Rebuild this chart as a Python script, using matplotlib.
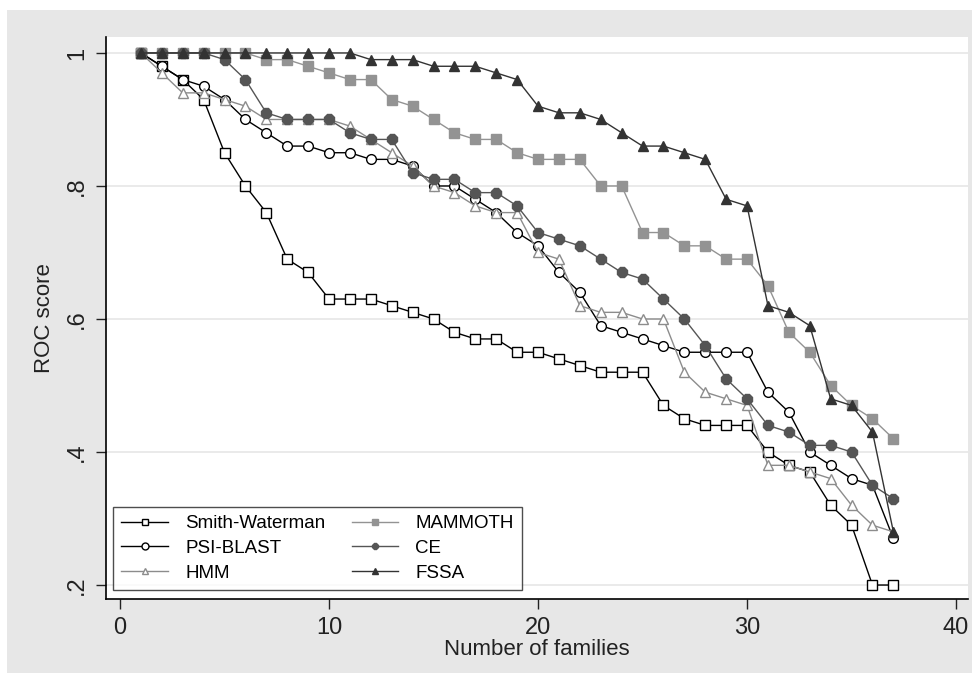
import matplotlib
matplotlib.use("Agg")
import matplotlib.pyplot as plt
from matplotlib.patches import Rectangle

plt.rcParams["font.family"] = ["Liberation Sans", "DejaVu Sans"]

families = list(range(1, 38))

smith_waterman = [1.00, 0.98, 0.96, 0.93, 0.85, 0.80, 0.76, 0.69, 0.67, 0.63,
                  0.63, 0.63, 0.62, 0.61, 0.60, 0.58, 0.57, 0.57, 0.55, 0.55,
                  0.54, 0.53, 0.52, 0.52, 0.52, 0.47, 0.45, 0.44, 0.44, 0.44,
                  0.40, 0.38, 0.37, 0.32, 0.29, 0.20, 0.20]
psi_blast = [1.00, 0.98, 0.96, 0.95, 0.93, 0.90, 0.88, 0.86, 0.86, 0.85,
             0.85, 0.84, 0.84, 0.83, 0.80, 0.80, 0.78, 0.76, 0.73, 0.71,
             0.67, 0.64, 0.59, 0.58, 0.57, 0.56, 0.55, 0.55, 0.55, 0.55,
             0.49, 0.46, 0.40, 0.38, 0.36, 0.35, 0.27]
hmm = [1.00, 0.97, 0.94, 0.94, 0.93, 0.92, 0.90, 0.90, 0.90, 0.90,
       0.89, 0.87, 0.85, 0.83, 0.80, 0.79, 0.77, 0.76, 0.76, 0.70,
       0.69, 0.62, 0.61, 0.61, 0.60, 0.60, 0.52, 0.49, 0.48, 0.47,
       0.38, 0.38, 0.37, 0.36, 0.32, 0.29, 0.28]
mammoth = [1.00, 1.00, 1.00, 1.00, 1.00, 1.00, 0.99, 0.99, 0.98, 0.97,
           0.96, 0.96, 0.93, 0.92, 0.90, 0.88, 0.87, 0.87, 0.85, 0.84,
           0.84, 0.84, 0.80, 0.80, 0.73, 0.73, 0.71, 0.71, 0.69, 0.69,
           0.65, 0.58, 0.55, 0.50, 0.47, 0.45, 0.42]
ce = [1.00, 1.00, 1.00, 1.00, 0.99, 0.96, 0.91, 0.90, 0.90, 0.90,
      0.88, 0.87, 0.87, 0.82, 0.81, 0.81, 0.79, 0.79, 0.77, 0.73,
      0.72, 0.71, 0.69, 0.67, 0.66, 0.63, 0.60, 0.56, 0.51, 0.48,
      0.44, 0.43, 0.41, 0.41, 0.40, 0.35, 0.33]
fssa = [1.00, 1.00, 1.00, 1.00, 1.00, 1.00, 1.00, 1.00, 1.00, 1.00,
        1.00, 0.99, 0.99, 0.99, 0.98, 0.98, 0.98, 0.97, 0.96, 0.92,
        0.91, 0.91, 0.90, 0.88, 0.86, 0.86, 0.85, 0.84, 0.78, 0.77,
        0.62, 0.61, 0.59, 0.48, 0.47, 0.43, 0.28]

y_ticks = [0.2, 0.4, 0.6, 0.8, 1.0]
y_tick_labels = [".2", ".4", ".6", ".8", "1"]
x_ticks = [0, 10, 20, 30, 40]

fig = plt.figure(figsize=(9.79, 6.83), dpi=100, facecolor="white")
# grey graph region behind the white plot area
fig.patches.append(Rectangle((7 / 979, 10 / 683), 965 / 979, 663 / 683,
                             transform=fig.transFigure, facecolor="#e7e7e7",
                             edgecolor="none", zorder=-10))
ax = fig.add_axes([106 / 979, 1 - 599 / 683, 862 / 979, 562 / 683])
ax.set_facecolor("white")

series = [
    ("Smith-Waterman", smith_waterman, dict(color="black", marker="s", mfc="white", mec="black", ms=6.5)),
    ("PSI-BLAST", psi_blast, dict(color="black", marker="o", mfc="white", mec="black", ms=7)),
    ("HMM", hmm, dict(color="#8c8c8c", marker="^", mfc="white", mec="#8c8c8c", ms=7)),
    ("MAMMOTH", mammoth, dict(color="#939393", marker="s", mfc="#939393", mec="#939393", ms=6.5)),
    ("CE", ce, dict(color="#555555", marker="8", mfc="#555555", mec="#555555", ms=8)),
    ("FSSA", fssa, dict(color="#333333", marker="^", mfc="#333333", mec="#333333", ms=7.5)),
]
for label, values, style in series:
    ax.plot(families, values, lw=1.0, mew=1.0, label=label, **style)

ax.set_xlim(-0.67, 40.57)
ax.set_ylim(0.179, 1.024)
ax.set_xticks(x_ticks)
ax.set_yticks(y_ticks)
ax.set_yticklabels(y_tick_labels, rotation=90, va="center")
ax.tick_params(axis="both", direction="out", length=7, width=1, labelsize=17,
               pad=6, colors="#222222")
ax.grid(True, axis="y", color="#e6e6e6", lw=1.2)
ax.set_axisbelow(True)
for side in ("top", "right"):
    ax.spines[side].set_visible(False)
for side in ("left", "bottom"):
    ax.spines[side].set_linewidth(1.2)
ax.set_xlabel("Number of families", fontsize=16, labelpad=0, color="#222222")
ax.set_ylabel("ROC score", fontsize=16, labelpad=8, color="#222222")

leg = ax.legend(ncol=2, loc="lower left", bbox_to_anchor=(0.008, 0.016), fontsize=13.5,
                frameon=True, fancybox=False, edgecolor="#222222", borderpad=0.45,
                borderaxespad=0, handlelength=2.5, handletextpad=0.9,
                columnspacing=1.4, labelspacing=0.4)
leg.get_frame().set_linewidth(1.0)
for handle in leg.legend_handles:
    handle.set_markersize(5)

fig.savefig("out.png", dpi=100, facecolor="white")
